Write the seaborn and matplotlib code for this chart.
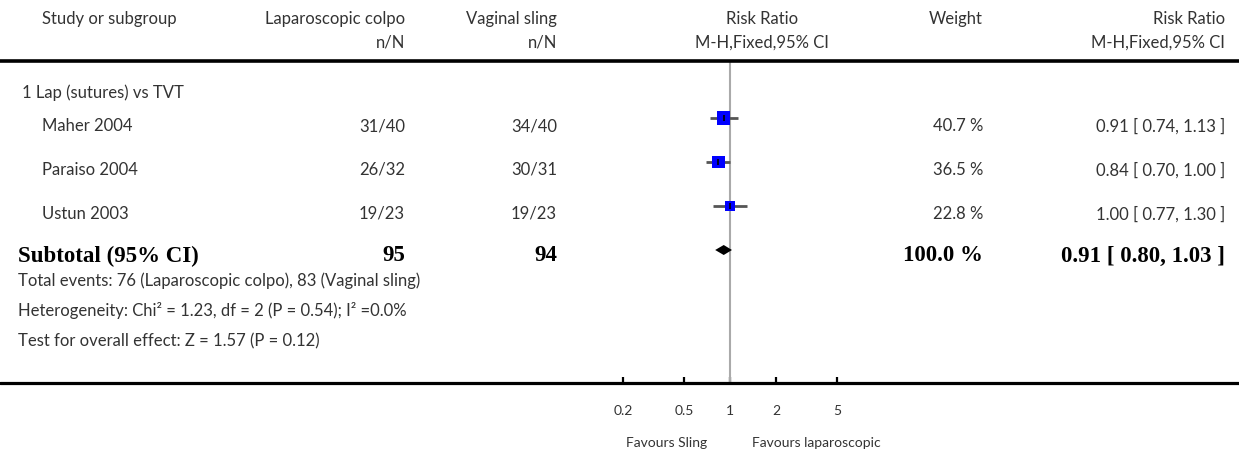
import numpy as np
import pandas as pd
import matplotlib
matplotlib.use("Agg")
import matplotlib.pyplot as plt
from matplotlib.lines import Line2D
import seaborn as sns

# ---- data -------------------------------------------------------------
studies = ["Maher 2004", "Paraiso 2004", "Ustun 2003"]
lap_events = [31, 26, 19]
lap_total = [40, 32, 23]
sling_events = [34, 30, 19]
sling_total = [40, 31, 23]
rr = [0.91, 0.84, 1.00]
rr_low = [0.74, 0.70, 0.77]
rr_high = [1.13, 1.00, 1.30]
weights = [40.7, 36.5, 22.8]

sub_rr, sub_low, sub_high = 0.91, 0.80, 1.03
sub_weight = 100.0
sub_lap_total, sub_sling_total = 95, 94
events_lap, events_sling = 76, 83

group_label = "1 Lap (sutures) vs TVT"
hetero_text = "Heterogeneity: Chi\u00b2 = 1.23, df = 2 (P = 0.54); I\u00b2 =0.0%"
effect_text = "Test for overall effect: Z = 1.57 (P = 0.12)"

xticks = [0.2, 0.5, 1, 2, 5]
xtick_labels = ["0.2", "0.5", "1", "2", "5"]
favours_left = "Favours Sling"
favours_right = "Favours laparoscopic"

# ---- figure setup -----------------------------------------------------
W, H, DPI = 1239, 456, 100
sns.set_style("white")
plt.rcParams["font.family"] = ["Lato", "DejaVu Sans"]
TXT = "#333333"
SERIF = ["Liberation Serif", "DejaVu Serif"]
FS = 12
FS_BOLD = 16.5

fig = plt.figure(figsize=(W / DPI, H / DPI), dpi=DPI)


def fy(y):
    return 1 - y / H


def put(x, y, s, ha="left", size=FS, bold=False, **kw):
    if bold:
        fig.text(x / W, fy(y), s, ha=ha, va="center", fontsize=FS_BOLD,
                 fontweight="bold", family=SERIF, color="black", **kw)
    else:
        fig.text(x / W, fy(y), s, ha=ha, va="center", fontsize=size,
                 color=TXT, **kw)


# column anchors (pixels)
X_STUDY, X_LAP, X_SLING, X_RRHEAD, X_WEIGHT, X_RR = 42, 405, 557, 762, 983, 1225

# header
put(X_STUDY, 19, "Study or subgroup")
put(X_LAP, 19, "Laparoscopic colpo", ha="right")
put(X_SLING, 19, "Vaginal sling", ha="right")
put(X_RRHEAD, 19, "Risk Ratio", ha="center")
put(X_WEIGHT, 19, "Weight", ha="right")
put(X_RR, 19, "Risk Ratio", ha="right")
put(X_LAP, 43, "n/N", ha="right")
put(X_SLING, 43, "n/N", ha="right")
put(X_RRHEAD, 43, "M-H,Fixed,95% CI", ha="center")
put(X_RR, 43, "M-H,Fixed,95% CI", ha="right")

# horizontal rules across the full width
fig.add_artist(Line2D([0, 1], [fy(62), fy(62)], color="black", lw=2.6))
fig.add_artist(Line2D([0, 1], [fy(384), fy(384)], color="black", lw=2.3))

# ---- forest panel -----------------------------------------------------
ROW0, ROWSTEP = 119, 44          # pixel centre of first row, row spacing
AX_L, AX_R, AX_T, AX_B = 560, 900, 62, 384
ax = fig.add_axes([AX_L / W, fy(AX_B), (AX_R - AX_L) / W, (AX_B - AX_T) / H])
ax.set_xscale("log")
PX_PER_DEC, X_ONE = 153, 730
ax.set_xlim(10 ** ((AX_L - X_ONE) / PX_PER_DEC), 10 ** ((AX_R - X_ONE) / PX_PER_DEC))
ax.set_ylim((AX_B - ROW0) / ROWSTEP, (AX_T - ROW0) / ROWSTEP)
ax.patch.set_alpha(0)
for sp in ax.spines.values():
    sp.set_visible(False)

df = pd.DataFrame({"study": studies, "rr": rr, "lo": rr_low, "hi": rr_high,
                   "w": weights, "row": np.arange(len(studies))})

ax.axvline(1, color="#aaaaaa", lw=1.5, zorder=1)
ax.hlines(df["row"], df["lo"], df["hi"], color="#555555", lw=2, zorder=2)

# square area proportional to weight
side_pt = {w: 2.04 * np.sqrt(w) * 72 / DPI for w in weights}
sns.scatterplot(data=df, x="rr", y="row", size="w",
                sizes={w: s ** 2 for w, s in side_pt.items()},
                marker="s", color="#0000ff", edgecolor="none", linewidth=0,
                legend=False, ax=ax, zorder=3)
ax.scatter(df["rr"], df["row"], marker="|", s=14, color="black", lw=1.2, zorder=4)

# pooled diamond
sub_row = len(studies)
dh = 5 / ROWSTEP
ax.fill([sub_low, sub_rr, sub_high, sub_rr], [sub_row, sub_row - dh, sub_row, sub_row + dh],
        color="black", lw=0, zorder=4)

ax.set_xticks(xticks)
ax.set_xticklabels(xtick_labels)
ax.minorticks_off()
ax.set_yticks([])
ax.tick_params(axis="x", direction="in", length=4, width=1.6, color="black",
               pad=15, labelsize=10, labelcolor=TXT, bottom=True)
ax.set_xlabel("")
ax.set_ylabel("")

put(X_ONE - 23, 443, favours_left, ha="right", size=10)
put(X_ONE + 22, 443, favours_right, ha="left", size=10)

# ---- table text -------------------------------------------------------
put(22, 93, group_label)
for i, row in df.iterrows():
    y = ROW0 + ROWSTEP * i + 7
    put(X_STUDY, y, row["study"])
    put(X_LAP, y, f"{lap_events[i]}/{lap_total[i]}", ha="right")
    put(X_SLING, y, f"{sling_events[i]}/{sling_total[i]}", ha="right")
    put(X_WEIGHT, y, f"{row['w']:.1f} %", ha="right")
    put(X_RR, y, f"{row['rr']:.2f} [ {row['lo']:.2f}, {row['hi']:.2f} ]", ha="right")

ys = ROW0 + ROWSTEP * sub_row + 5
put(18, ys, "Subtotal (95% CI)", bold=True)
put(X_LAP, ys, f"{sub_lap_total}", ha="right", bold=True)
put(X_SLING, ys, f"{sub_sling_total}", ha="right", bold=True)
put(X_WEIGHT, ys, f"{sub_weight:.1f} %", ha="right", bold=True)
put(X_RR, ys, f"{sub_rr:.2f} [ {sub_low:.2f}, {sub_high:.2f} ]", ha="right", bold=True)

put(18, 281, f"Total events: {events_lap} (Laparoscopic colpo), {events_sling} (Vaginal sling)")
put(18, 311, hetero_text)
put(18, 341, effect_text)

fig.savefig("out.png", dpi=DPI)
